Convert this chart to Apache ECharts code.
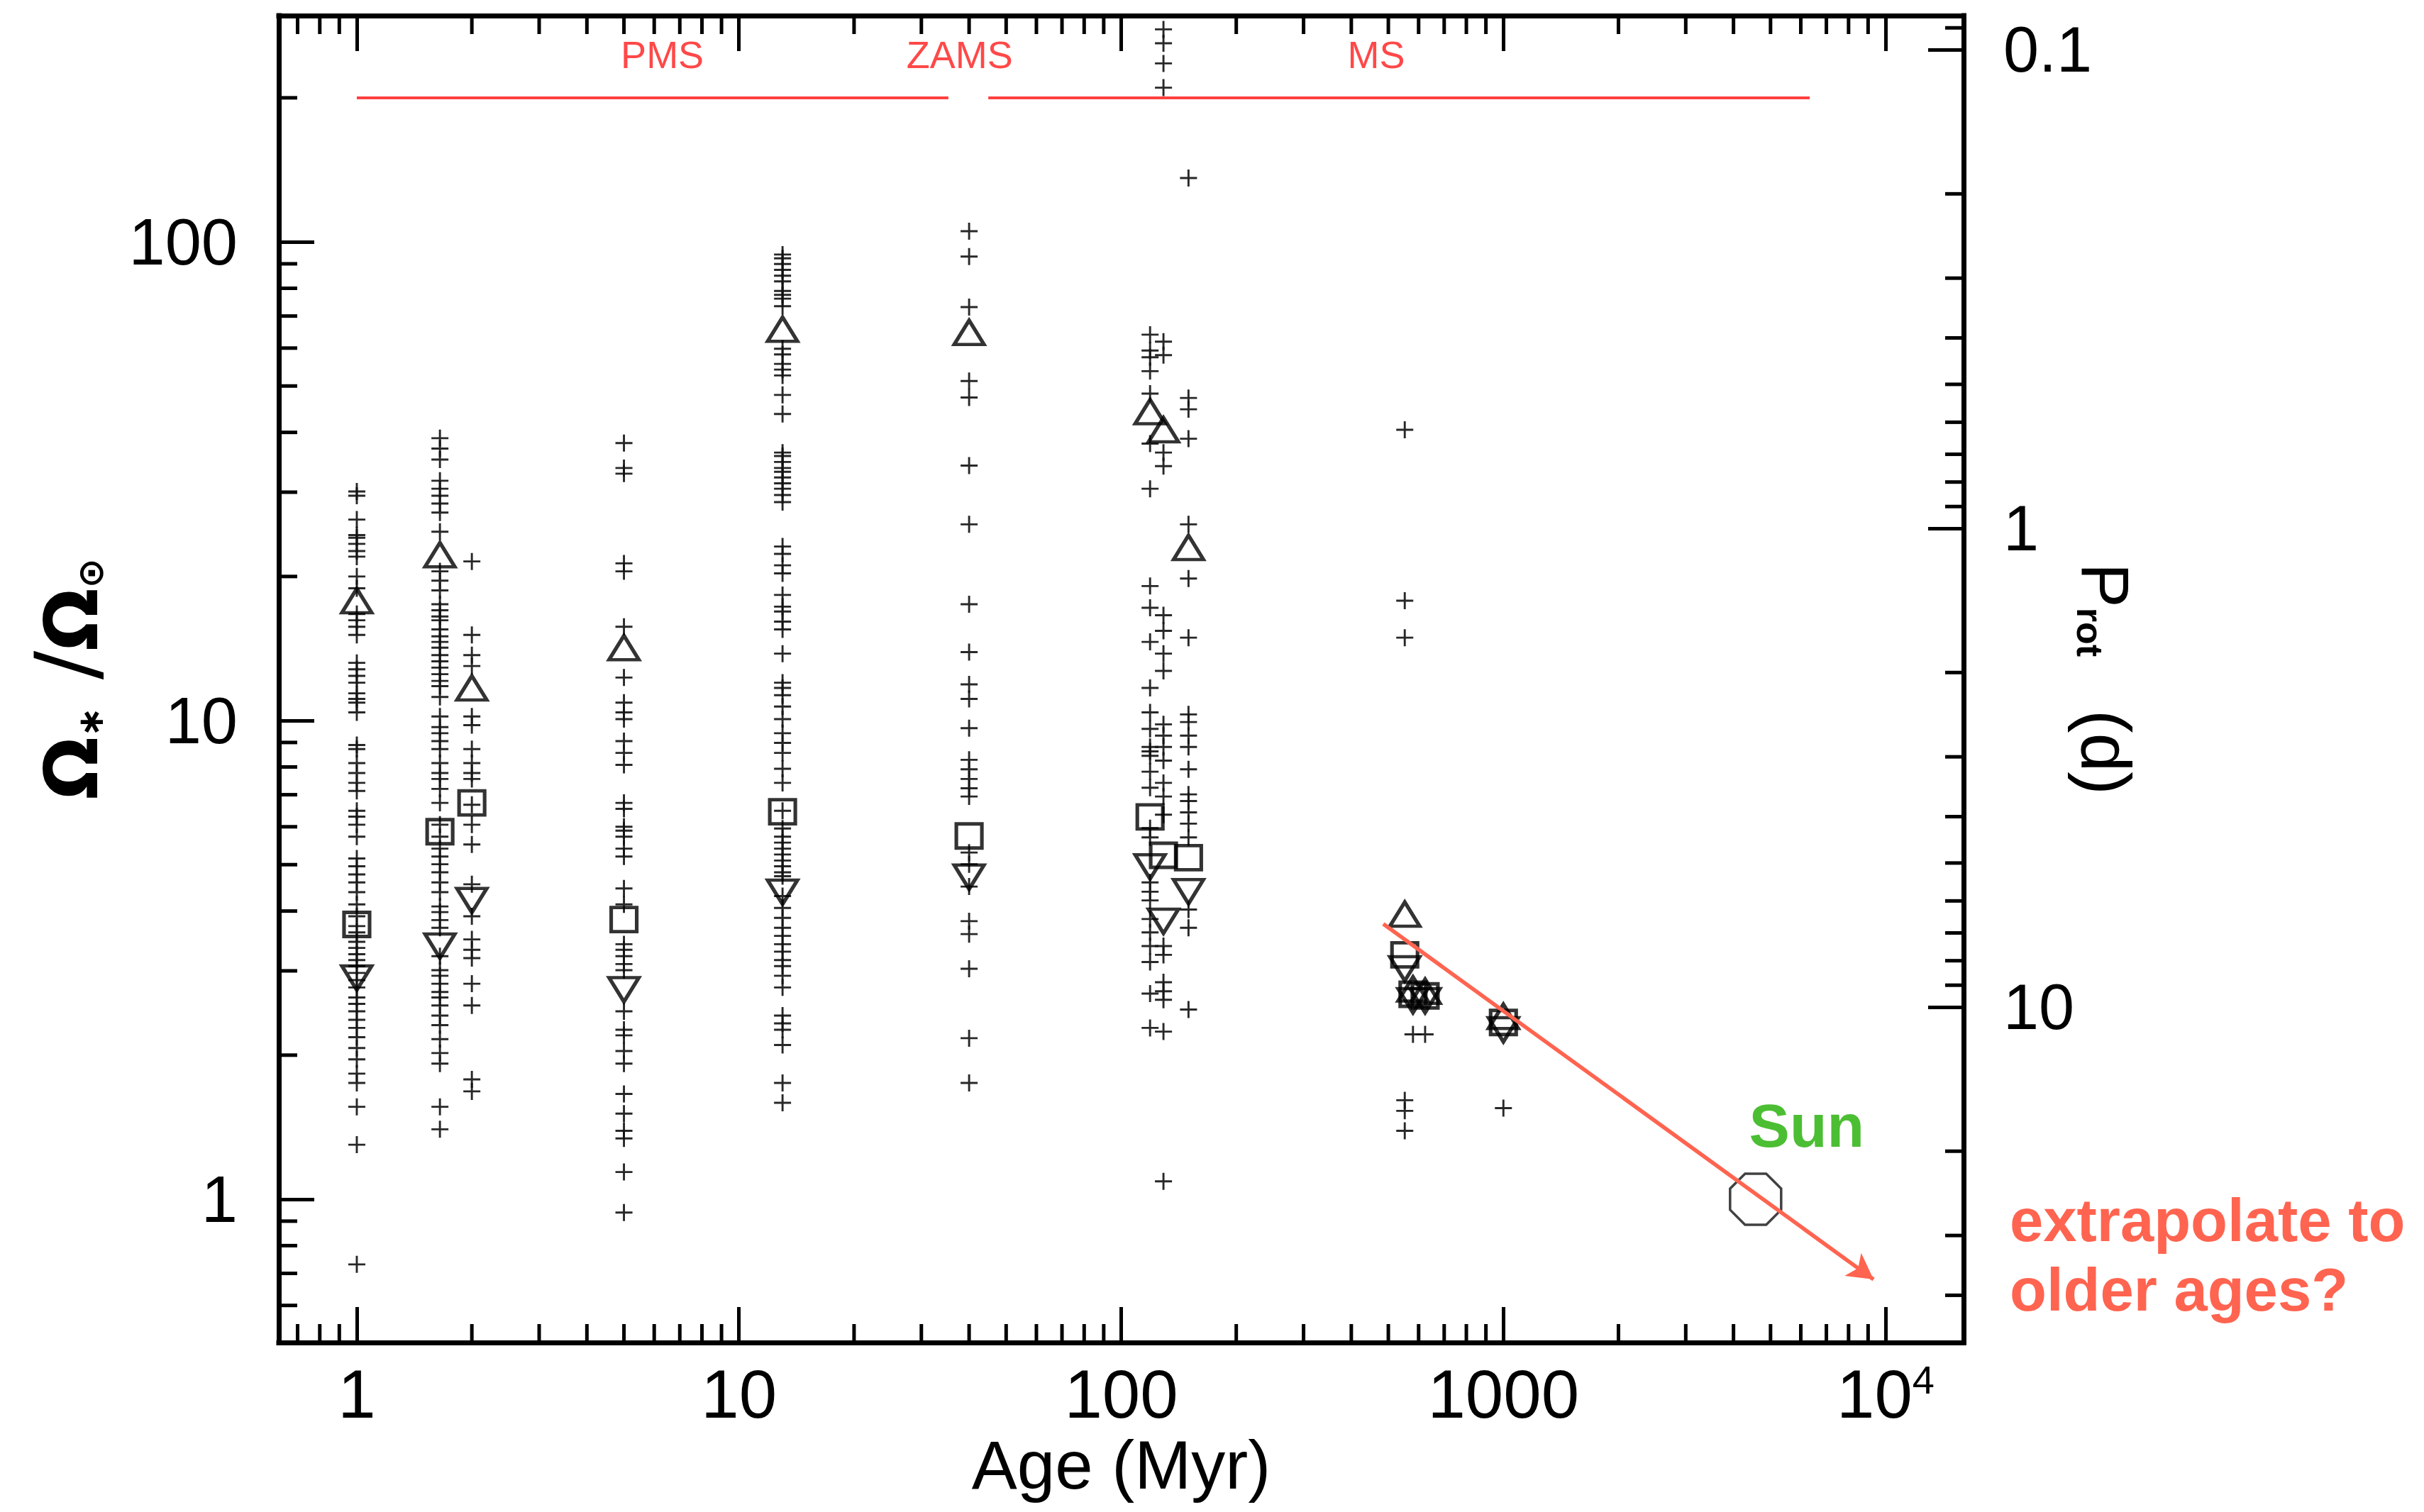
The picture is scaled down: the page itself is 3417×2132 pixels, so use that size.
<!DOCTYPE html>
<html>
<head>
<meta charset="utf-8">
<script src="https://cdn.jsdelivr.net/npm/echarts@6/dist/echarts.min.js"></script>
<style>
html,body{margin:0;padding:0;background:#fff;}
#chart{width:3417px;height:2132px;}
</style>
</head>
<body>
<div id="chart"></div>
<script>
// ---------------- DATA ----------------
// axis ranges (Age in Myr, Omega in solar units, Prot in days)
const AGE_MIN = 0.625, AGE_MAX = 16000;
const OMEGA_MIN = 0.502, OMEGA_MAX = 297;
const P_SUN = 25.2; // Prot = P_SUN / Omega

const ageTicks = [1, 10, 100, 1000, 10000];
const ageTickLabels = ['1', '10', '100', '1000', '{n|10}{sup|4}'];
const ageMinorTicks = [0.7, 0.8, 0.9, 2, 3, 4, 5, 6, 7, 8, 9, 20, 30, 40, 50, 60, 70, 80, 90,
  200, 300, 400, 500, 600, 700, 800, 900, 2000, 3000, 4000, 5000, 6000, 7000, 8000, 9000];
const omegaTicks = [1, 10, 100];
const omegaTickLabels = ['1', '10', '100'];
const omegaMinorTicks = [0.6, 0.7, 0.8, 0.9, 2, 3, 4, 5, 6, 7, 8, 9, 20, 30, 40, 50, 60, 70, 80, 90, 200];
const periodTicks = [0.1, 1, 10];
const periodTickLabels = ['0.1', '1', '10'];
const periodMinorTicks = [0.09, 0.2, 0.3, 0.4, 0.5, 0.6, 0.7, 0.8, 0.9, 2, 3, 4, 5, 6, 7, 8, 9, 20, 30, 40];

// individual stars (+) per cluster age
const plus_1Myr = [30.1, 29.5, 26.3, 24.4, 24.1, 23.4, 22.6, 22.0, 20.0, 18.9, 16.7, 16.2, 15.7, 15.1, 13.2, 12.8, 12.4, 12.0, 11.4, 11.1, 10.9, 10.4, 8.89, 8.72, 8.15, 7.77, 7.41, 7.13, 6.48, 6.30, 6.06, 5.72, 5.15, 4.96, 4.77, 4.59, 4.38, 4.13, 3.9, 3.72, 3.61, 3.45, 3.35, 3.25, 3.16, 3.07, 2.97, 2.87, 2.77, 2.64, 2.56, 2.47, 2.37, 2.28, 2.18, 2.07, 1.96, 1.83, 1.75, 1.56, 1.30, 0.731];
const plus_1p65Myr = [38.9, 37.0, 35.1, 31.7, 30.5, 29.5, 28.4, 27.2, 24.8, 20.5, 19.6, 18.7, 17.5, 17.0, 16.5, 16.2, 15.5, 15.0, 14.6, 14.2, 13.7, 13.3, 12.9, 12.5, 12.1, 11.8, 11.2, 10.2, 9.69, 9.41, 9.06, 8.72, 8.15, 7.77, 7.55, 7.20, 6.73, 6.06, 5.72, 5.40, 5.20, 5.01, 4.82, 4.59, 4.38, 4.09, 3.98, 3.83, 3.69, 3.22, 3.01, 2.93, 2.82, 2.71, 2.64, 2.54, 2.42, 2.31, 2.16, 2.02, 1.92, 1.56, 1.40];
const plus_2Myr = [21.5, 15.1, 13.7, 13.0, 10.2, 9.78, 8.72, 8.15, 7.77, 7.55, 6.67, 6.06, 5.51, 4.55, 3.90, 3.49, 3.32, 3.19, 2.82, 2.54, 1.78, 1.68];
const plus_5Myr = [38.0, 33.7, 32.8, 21.3, 20.5, 15.7, 12.3, 10.9, 10.4, 10.07, 9.06, 8.56, 8.08, 6.73, 6.54, 6.00, 5.89, 5.72, 5.40, 5.20, 4.46, 4.13, 3.41, 3.32, 3.22, 3.10, 3.01, 2.47, 2.26, 2.20, 2.04, 1.92, 1.66, 1.51, 1.39, 1.34, 1.14, 0.938];
const plus_13Myr = [94.1, 92.4, 89.9, 87.4, 85.0, 82.7, 79.0, 77.5, 76.1, 73.4, 59.8, 58.2, 55.6, 54.1, 52.6, 47.9, 43.7, 36.3, 35.7, 34.7, 33.7, 33.1, 32.2, 31.3, 30.5, 29.6, 28.6, 23.1, 22.3, 21.1, 20.3, 18.3, 17.3, 16.9, 16.1, 15.5, 13.8, 12.0, 11.7, 11.3, 10.7, 10.07, 9.41, 8.98, 8.56, 7.93, 7.41, 6.48, 5.95, 5.72, 5.56, 5.40, 5.25, 5.10, 4.96, 4.82, 4.73, 4.30, 4.06, 3.87, 3.69, 3.55, 3.41, 3.29, 3.16, 3.07, 2.93, 2.77, 2.42, 2.33, 2.26, 2.10, 1.75, 1.59];
const plus_40Myr = [105.3, 93.2, 73.1, 51.2, 47.3, 34.1, 25.7, 17.5, 13.9, 11.9, 11.1, 9.64, 8.28, 7.91, 7.55, 7.22, 6.94, 5.3, 5.01, 4.5, 3.81, 3.58, 3.03, 2.17, 1.75];
const plus_119Myr = [64.0, 59.3, 57.4, 53.7, 48.2, 37.9, 30.5, 19.1, 17.2, 14.6, 11.7, 10.4, 9.61, 8.81, 8.62, 8.44, 7.82, 7.24, 5.96, 5.70, 4.59, 4.39, 4.21, 3.85, 3.61, 3.38, 3.13, 2.69, 2.28];
const plus_129Myr = [278, 260, 236, 210, 61.9, 58.0, 36.3, 34.0, 16.6, 15.4, 13.8, 12.7, 9.82, 9.30, 8.81, 8.25, 7.41, 6.94, 6.36, 3.38, 3.24, 2.84, 2.72, 2.61, 2.24, 1.09];
const plus_150Myr = [136, 47.2, 44.7, 38.8, 25.7, 19.8, 14.9, 10.3, 9.93, 9.30, 8.81, 7.91, 7.01, 6.79, 6.43, 6.09, 5.70, 4.03, 3.69, 2.49];
const plus_552Myr = [40.5, 17.8, 14.9, 1.61, 1.53, 1.39];
const plus_580Myr = [2.21];
const plus_624Myr = [2.21];
const plus_1000Myr = [1.55];

// cluster percentiles: [age, Omega]
const upper90 = [[1, 17.8], [1.65, 22.2], [2.0, 11.7], [5, 14.2], [13, 65.7], [40, 64.7], [119, 44.2], [129, 40.5], [150, 23.0], [552, 3.94], [580, 2.75], [624, 2.72], [1000, 2.41]];
const median50 = [[1, 3.75], [1.65, 5.86], [2.0, 6.73], [5, 3.84], [13, 6.45], [40, 5.74], [119, 6.29], [129, 5.23], [150, 5.17], [552, 3.24], [580, 2.68], [624, 2.66], [1000, 2.34]];
const lower25 = [[1, 2.9], [1.65, 3.38], [2.0, 4.21], [5, 2.74], [13, 4.38], [40, 4.71], [119, 4.95], [129, 3.81], [150, 4.39], [552, 3.03], [580, 2.6], [624, 2.6], [1000, 2.26]];

const sunPoint = [[4570, 1.0]];
const pmsBar = [[1, 200], [35.3, 200]];
const msBar = [[44.9, 200], [6330, 200]];
const phaseLabels = [[6.3, 246, 'PMS'], [37.8, 246, 'ZAMS'], [465, 246, 'MS']];
const trendArrow = [[485, 3.76], [9300, 0.68]];

// ---------------- BUILD ----------------
const plusGroups = [
  [1, plus_1Myr], [1.65, plus_1p65Myr], [2.0, plus_2Myr], [5, plus_5Myr], [13, plus_13Myr],
  [40, plus_40Myr], [119, plus_119Myr], [129, plus_129Myr], [150, plus_150Myr],
  [552, plus_552Myr], [580, plus_580Myr], [624, plus_624Myr], [1000, plus_1000Myr]
];
const plusData = [];
plusGroups.forEach(g => g[1].forEach(v => plusData.push([g[0], v])));

const FONT = "'Liberation Sans', Arial, Helvetica, sans-serif";
const P_MIN = P_SUN / OMEGA_MAX, P_MAX = P_SUN / OMEGA_MIN;

function tickLabel(ticks, labels) {
  return function (v) {
    for (let i = 0; i < ticks.length; i++) {
      if (Math.abs(Math.log10(v) - Math.log10(ticks[i])) < 1e-4) return labels[i];
    }
    return '';
  };
}

const axisLineStyle = { show: true, onZero: false, lineStyle: { color: '#000', width: 7, cap: 'square' } };
const majorTick = { show: true, inside: true, length: 50, lineStyle: { color: '#000', width: 5 } };
const tickStyle = { stroke: '#000', lineWidth: 5 };
const MINOR_LEN = 26;

const chart = echarts.init(document.getElementById('chart'), null, { renderer: 'svg', width: 3417, height: 2132 });

const option = {
  animation: false,
  backgroundColor: '#fff',
  grid: { left: 393, right: 649, top: 22, bottom: 239, containLabel: false, outerBoundsMode: 'none' },
  xAxis: [
    {
      type: 'log', logBase: 10, min: AGE_MIN, max: AGE_MAX, position: 'bottom',
      axisLine: axisLineStyle, axisTick: majorTick, splitLine: { show: false }, minorTick: { show: false },
      axisLabel: {
        show: true, margin: 24, fontSize: 96, color: '#000', fontFamily: FONT,
        formatter: tickLabel(ageTicks, ageTickLabels),
        rich: { n: { fontSize: 96, fontFamily: FONT, color: '#000' }, sup: { fontSize: 56, fontFamily: FONT, color: '#000', verticalAlign: 'top', lineHeight: 56 } }
      },
      name: 'Age (Myr)', nameLocation: 'middle', nameGap: 122,
      nameTextStyle: { fontSize: 96, color: '#000', fontFamily: FONT }
    },
    {
      type: 'log', logBase: 10, min: AGE_MIN, max: AGE_MAX, position: 'top',
      axisLine: axisLineStyle, axisTick: majorTick, splitLine: { show: false }, axisLabel: { show: false }
    }
  ],
  yAxis: [
    {
      type: 'log', logBase: 10, min: OMEGA_MIN, max: OMEGA_MAX, position: 'left',
      axisLine: axisLineStyle, axisTick: majorTick, splitLine: { show: false }, minorTick: { show: false },
      axisLabel: { show: true, margin: 58, fontSize: 92, color: '#000', fontFamily: FONT, formatter: tickLabel(omegaTicks, omegaTickLabels) },
      name: '{om|Ω}{sub|∗}  {sl|/}{om|Ω}{sub|⊙}', nameLocation: 'middle', nameGap: 240, nameRotate: 90,
      nameTextStyle: {
        color: '#000', fontSize: 70, fontFamily: FONT,
        rich: {
          om: { fontSize: 104, fontWeight: 'bold', fontFamily: 'DejaVu Sans', color: '#000', lineHeight: 112, verticalAlign: 'bottom' },
          sl: { fontSize: 120, fontFamily: 'DejaVu Sans', color: '#000', lineHeight: 112, verticalAlign: 'bottom' },
          sub: { fontSize: 50, fontWeight: 'bold', fontFamily: 'DejaVu Sans', color: '#000', lineHeight: 62, verticalAlign: 'bottom' }
        }
      }
    },
    {
      type: 'log', logBase: 10, min: P_MIN, max: P_MAX, inverse: true, position: 'right',
      axisLine: axisLineStyle, axisTick: majorTick, splitLine: { show: false }, minorTick: { show: false },
      axisLabel: { show: true, margin: 56, fontSize: 90, color: '#000', fontFamily: FONT, formatter: tickLabel(periodTicks, periodTickLabels) },
      name: '{p|P}{r|rot}   {d|(d)}', nameLocation: 'middle', nameGap: 152, nameRotate: -90, nameMoveOverlap: false,
      nameTextStyle: {
        color: '#000', fontSize: 90, fontFamily: FONT,
        rich: {
          p: { fontSize: 94, fontFamily: FONT, color: '#000', lineHeight: 104, verticalAlign: 'bottom' },
          d: { fontSize: 98, fontFamily: FONT, color: '#000', lineHeight: 104, verticalAlign: 'bottom' },
          r: { fontSize: 52, fontWeight: 'bold', fontFamily: FONT, color: '#000', lineHeight: 56, verticalAlign: 'bottom' }
        }
      }
    }
  ],
  graphic: [
    {
      type: 'text', left: 2833, top: 1671, z: 10,
      style: { text: 'extrapolate to\nolder ages?', fontSize: 85, lineHeight: 98, fontWeight: 'bold', fontFamily: FONT, fill: '#ff6450' }
    }
  ],
  series: [
    // evolutionary phase bars
    { type: 'line', xAxisIndex: 0, yAxisIndex: 0, data: pmsBar, symbol: 'none', silent: true, lineStyle: { color: '#ff4040', width: 4 }, z: 2 },
    { type: 'line', xAxisIndex: 0, yAxisIndex: 0, data: msBar, symbol: 'none', silent: true, lineStyle: { color: '#ff4040', width: 4 }, z: 2 },
    {
      type: 'scatter', xAxisIndex: 0, yAxisIndex: 0, data: phaseLabels, symbolSize: 1, silent: true,
      itemStyle: { color: 'rgba(0,0,0,0)' },
      label: { show: true, position: 'inside', formatter: p => p.value[2], fontSize: 54, color: '#ff1a1a', fontFamily: FONT }
    },
    // individual stars
    {
      type: 'scatter', xAxisIndex: 0, yAxisIndex: 0, data: plusData, silent: true,
      symbol: 'path://M12,0L12,24M0,12L24,12', symbolSize: 24,
      itemStyle: { color: 'rgba(0,0,0,0)', borderColor: '#111', borderWidth: 2.9, opacity: 0.9 }, z: 3
    },
    // 90th percentile (up triangles)
    {
      type: 'scatter', xAxisIndex: 0, yAxisIndex: 0, data: upper90, silent: true,
      symbol: 'triangle', symbolSize: [42, 34],
      itemStyle: { color: 'rgba(0,0,0,0)', borderColor: '#000', borderWidth: 5 }, z: 4
    },
    // median (squares)
    {
      type: 'scatter', xAxisIndex: 0, yAxisIndex: 0, data: median50, silent: true,
      symbol: 'rect', symbolSize: [36, 34],
      itemStyle: { color: 'rgba(0,0,0,0)', borderColor: '#000', borderWidth: 5 }, z: 4
    },
    // 25th percentile (down triangles)
    {
      type: 'scatter', xAxisIndex: 0, yAxisIndex: 0, data: lower25, silent: true,
      symbol: 'triangle', symbolRotate: 180, symbolSize: [42, 34],
      itemStyle: { color: 'rgba(0,0,0,0)', borderColor: '#000', borderWidth: 5 }, z: 4
    },
    // Sun
    {
      type: 'scatter', xAxisIndex: 0, yAxisIndex: 0, data: sunPoint, silent: true,
      symbol: 'path://M-0.414,-1L0.414,-1L1,-0.414L1,0.414L0.414,1L-0.414,1L-1,0.414L-1,-0.414Z', symbolSize: [72, 72],
      itemStyle: { color: 'rgba(0,0,0,0)', borderColor: '#111', borderWidth: 3.5 }, z: 4,
      label: { show: true, formatter: 'Sun', position: 'inside', offset: [72, -104], fontSize: 86, fontWeight: 'bold', color: '#1fae00', fontFamily: FONT }
    },
    // extrapolation arrow
    {
      type: 'line', xAxisIndex: 0, yAxisIndex: 0, data: [], silent: true,
      markLine: {
        silent: true, symbol: ['none', 'arrow'], symbolSize: [30, 36], animation: false,
        label: { show: false },
        lineStyle: { color: '#ff6450', width: 5.5, type: 'solid' },
        emphasis: { disabled: true },
        data: [[{ coord: trendArrow[0] }, { coord: trendArrow[1] }]]
      }, z: 6
    },
    // minor ticks: age axis (bottom + top)
    {
      type: 'custom', xAxisIndex: 0, yAxisIndex: 0, silent: true, clip: false, z: 8,
      data: ageMinorTicks.map(v => [v, OMEGA_MIN]),
      encode: { x: 0, y: 1 },
      renderItem: function (params, api) {
        const v = api.value(0);
        const b = api.coord([v, OMEGA_MIN]);
        const t = api.coord([v, OMEGA_MAX]);
        return {
          type: 'group', children: [
            { type: 'line', shape: { x1: b[0], y1: b[1], x2: b[0], y2: b[1] - MINOR_LEN }, style: tickStyle },
            { type: 'line', shape: { x1: t[0], y1: t[1], x2: t[0], y2: t[1] + MINOR_LEN }, style: tickStyle }
          ]
        };
      }
    },
    // minor ticks: omega axis (left)
    {
      type: 'custom', xAxisIndex: 0, yAxisIndex: 0, silent: true, clip: false, z: 8,
      data: omegaMinorTicks.map(v => [AGE_MIN, v]),
      encode: { x: 0, y: 1 },
      renderItem: function (params, api) {
        const p = api.coord([AGE_MIN, api.value(1)]);
        return { type: 'line', shape: { x1: p[0], y1: p[1], x2: p[0] + MINOR_LEN, y2: p[1] }, style: tickStyle };
      }
    },
    // minor ticks: period axis (right)
    {
      type: 'custom', xAxisIndex: 0, yAxisIndex: 1, silent: true, clip: false, z: 8,
      data: periodMinorTicks.map(v => [AGE_MAX, v]),
      encode: { x: 0, y: 1 },
      renderItem: function (params, api) {
        const p = api.coord([AGE_MAX, api.value(1)]);
        return { type: 'line', shape: { x1: p[0], y1: p[1], x2: p[0] - MINOR_LEN, y2: p[1] }, style: tickStyle };
      }
    }
  ]
};
chart.setOption(option);
</script>
</body>
</html>
